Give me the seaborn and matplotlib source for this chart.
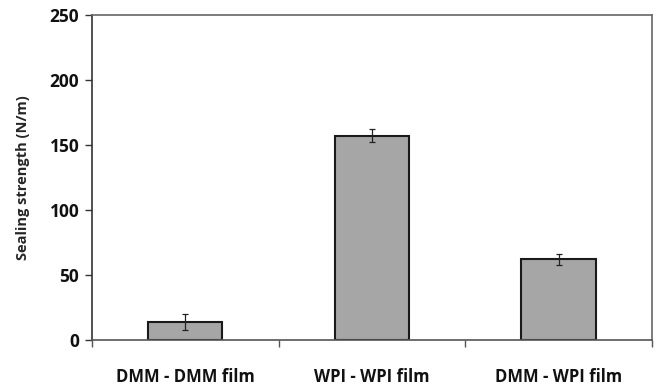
import numpy as np
import pandas as pd
import matplotlib
matplotlib.use("Agg")
import matplotlib.pyplot as plt
import seaborn as sns

# Sealing strength data
films = ["DMM - DMM film", "WPI - WPI film", "DMM - WPI film"]
strength = [14, 157, 62]
strength_err = [6, 5, 4]

df = pd.DataFrame({"film": films, "strength": strength})

sns.set_theme(style="white")
plt.rcParams["font.family"] = ["Open Sans", "DejaVu Sans"]

fig, ax = plt.subplots(figsize=(6.6, 3.85), dpi=100)
fig.subplots_adjust(left=0.139, right=0.988, top=0.961, bottom=0.117)

sns.barplot(data=df, x="film", y="strength", color="#a6a6a6", saturation=1,
            width=0.4, edgecolor="#1a1a1a", linewidth=1.5, errorbar=None, ax=ax)
ax.errorbar(np.arange(len(films)), strength, yerr=strength_err, fmt="none",
            ecolor="#222222", elinewidth=0.9, capsize=2, capthick=0.9)

ax.set_xlim(-0.5, len(films) - 0.5)
ax.set_ylim(0, 250)
ax.set_yticks([0, 50, 100, 150, 200, 250])
ax.set_xlabel("")
ax.set_ylabel("Sealing strength (N/m)", fontsize=10.5, fontweight="bold", labelpad=14)

for sp in ax.spines.values():
    sp.set_visible(True)
    sp.set_color("#666666")
    sp.set_linewidth(1.2)
ax.spines["left"].set_color("#333333")
ax.spines["bottom"].set_color("#555555")

ax.tick_params(axis="y", which="major", direction="out", length=5, width=1,
               color="#333333", labelsize=12.5, pad=4, left=True)
ax.tick_params(axis="x", which="major", length=0, labelsize=12, pad=20)
ax.set_xticks(np.arange(-0.5, len(films), 1.0), minor=True)
ax.tick_params(axis="x", which="minor", direction="out", length=5, width=1,
               color="#555555", bottom=True)
for lab in ax.get_xticklabels() + ax.get_yticklabels():
    lab.set_fontweight("bold")
    lab.set_color("#111111")

fig.savefig("out.png", dpi=100)
